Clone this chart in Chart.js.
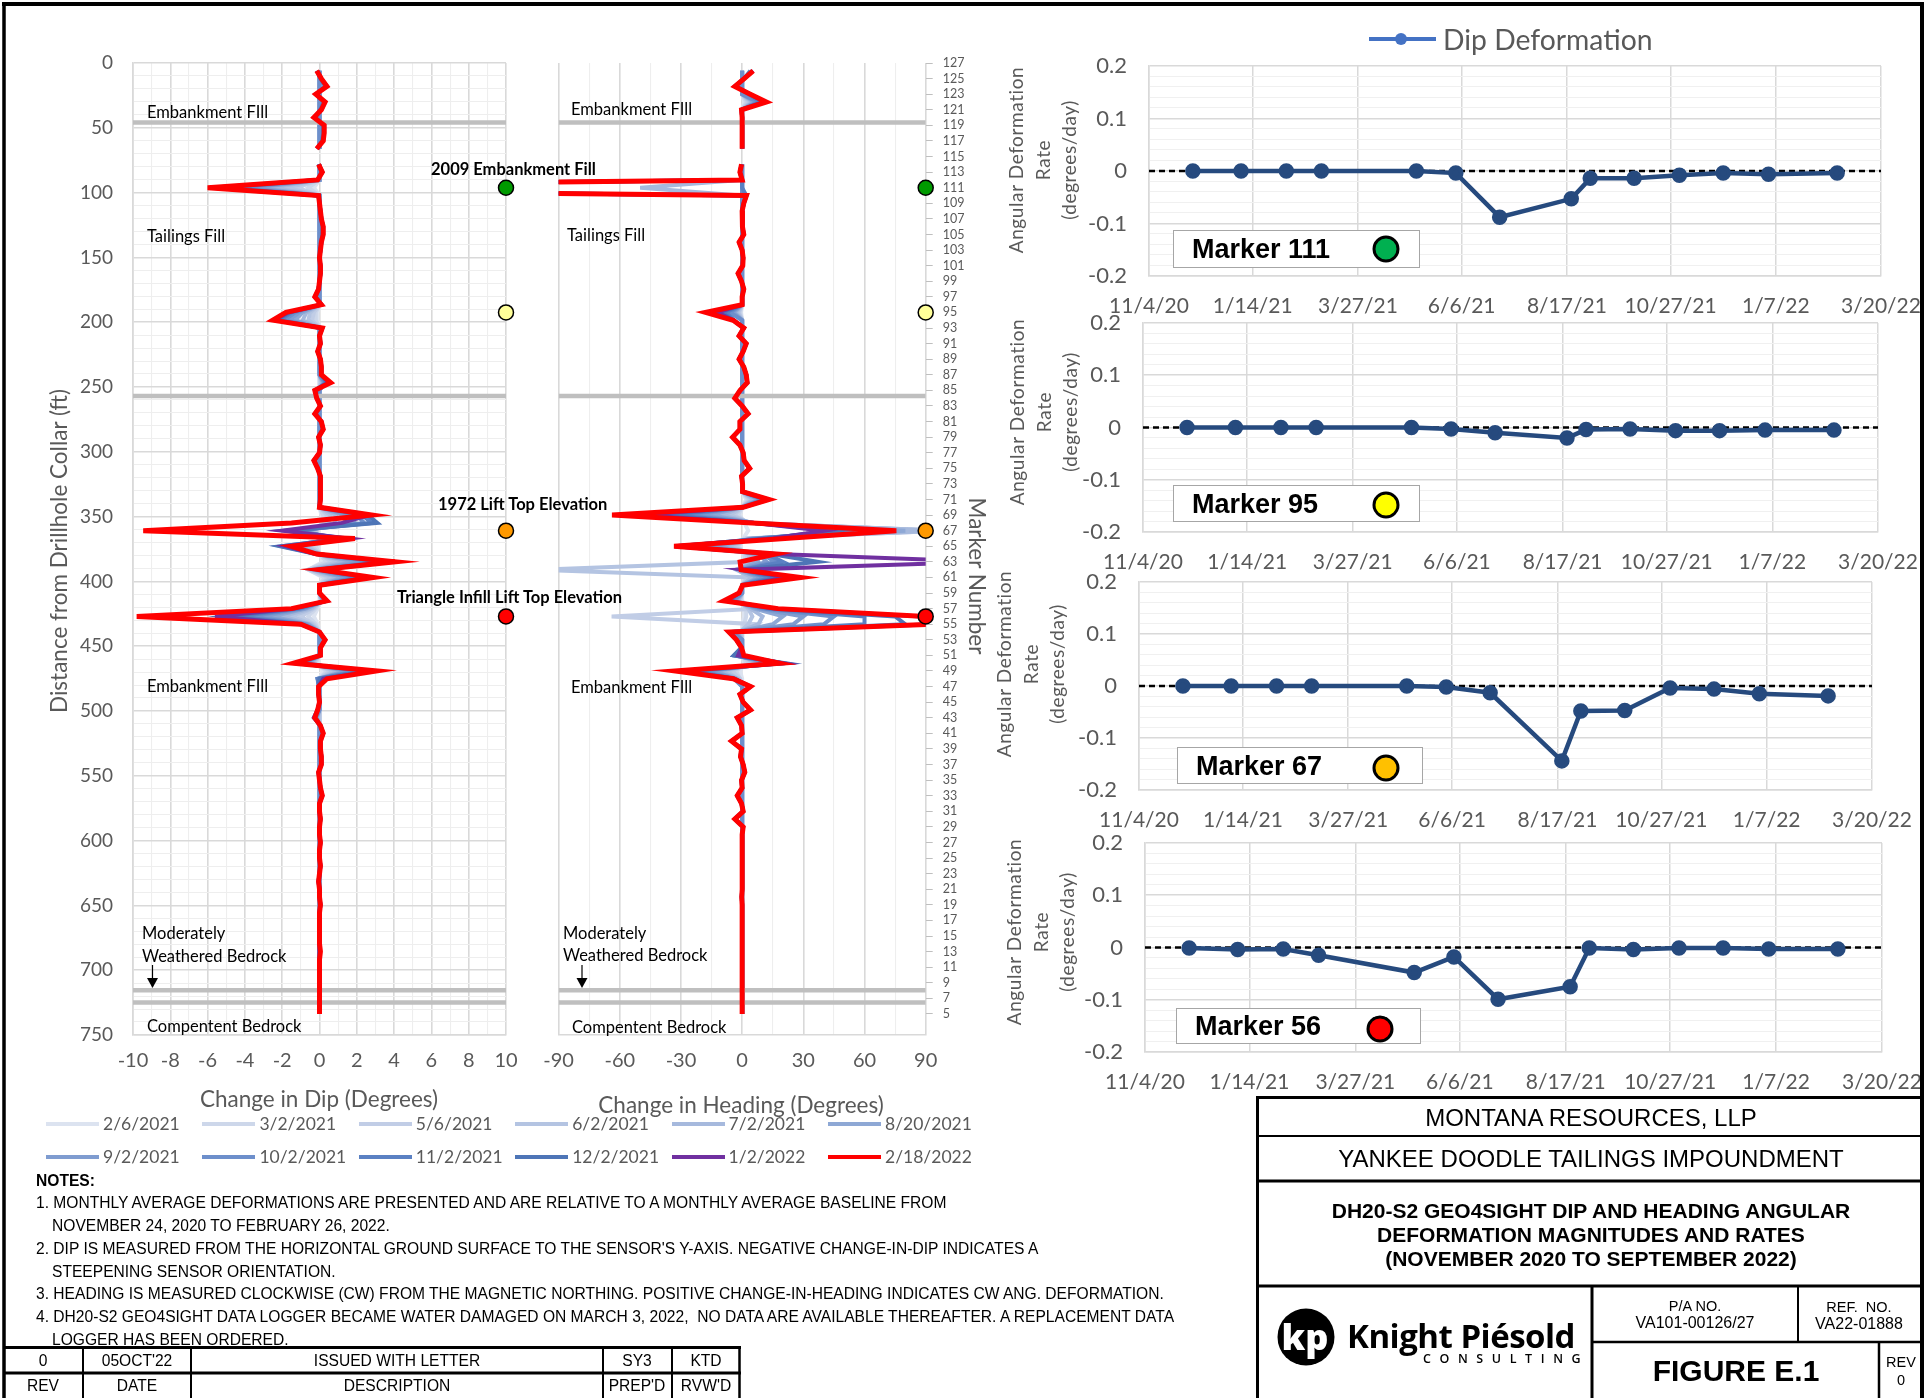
<!DOCTYPE html>
<html>
<head>
<meta charset="utf-8">
<title>DH20-S2 GEO4SIGHT Dip and Heading</title>
<script src="https://cdn.jsdelivr.net/npm/chart.js@4.4.1/dist/chart.umd.min.js"></script>
<style>
  html, body { margin: 0; padding: 0; background: #fff; }
  #page { position: relative; width: 1925px; height: 1398px; overflow: hidden; background: #fff; font-family: Lato, sans-serif; }
  #page canvas { position: absolute; }
  #lines { position: absolute; left: 0; top: 0; }
  .t { position: absolute; white-space: nowrap; line-height: 1; }
  .lc { transform: translateY(-50%); }
  .cc { transform: translate(-50%, -50%); }
  .ann { font-size: 16.5px; color: #000; }
  .annb { font-size: 16.5px; color: #000; font-weight: 700; }
  .axt { font-size: 22.5px; color: #595959; }
  .rt { font-size: 19px; color: #595959; letter-spacing: 0.6px; transform: translate(-50%, -50%) rotate(-90deg); }
  .note { font-family: 'Liberation Sans', Arial, sans-serif; font-size: 15.6px; color: #000; }
  .arial { font-family: 'Liberation Sans', Arial, sans-serif; color: #000; }
  .mbox { position: absolute; background: #fff; border: 1.5px solid #A6A6A6; box-sizing: border-box; }
  .mbox span { position: absolute; top: 50%; transform: translateY(-50%); font-family: 'Liberation Sans', Arial, sans-serif; font-weight: 700; font-size: 27px; color: #000; white-space: nowrap; }
  .mdot { position: absolute; width: 27px; height: 27px; border-radius: 50%; border: 3px solid #000; box-sizing: border-box; transform: translate(-50%, -50%); }
  .lg { position: absolute; height: 4px; width: 53px; }
  .lgt { position: absolute; font-size: 17.5px; color: #595959; transform: translateY(-50%); white-space: nowrap; line-height: 1; }
</style>
</head>
<body>
<div id="page">
  <canvas id="dipChart" width="540" height="1090" style="left:0;top:30px"></canvas>
  <canvas id="headingChart" width="460" height="1090" style="left:520px;top:30px"></canvas>
  <canvas id="rate111" width="945" height="292" style="left:1000px;top:26px"></canvas>
  <canvas id="rate95" width="945" height="291" style="left:1000px;top:283px"></canvas>
  <canvas id="rate67" width="945" height="290" style="left:1000px;top:542px"></canvas>
  <canvas id="rate56" width="945" height="291" style="left:1000px;top:803px"></canvas>

  <svg id="lines" width="1925" height="1398">
    <g stroke="#000" fill="none">
      <line x1="2" y1="4" x2="1924" y2="4" stroke-width="4"/>
      <line x1="4" y1="2" x2="4" y2="1398" stroke-width="3.5"/>
      <line x1="1922" y1="2" x2="1922" y2="1398" stroke-width="4"/>
      <line x1="1256" y1="1097.5" x2="1924" y2="1097.5" stroke-width="3"/>
      <line x1="1257.5" y1="1096" x2="1257.5" y2="1398" stroke-width="3"/>
      <line x1="1257" y1="1136" x2="1922" y2="1136" stroke-width="2"/>
      <line x1="1257" y1="1181" x2="1922" y2="1181" stroke-width="3"/>
      <line x1="1257" y1="1286" x2="1922" y2="1286" stroke-width="3"/>
      <line x1="1592" y1="1286" x2="1592" y2="1398" stroke-width="3"/>
      <line x1="1798" y1="1286" x2="1798" y2="1342" stroke-width="2"/>
      <line x1="1592" y1="1342" x2="1922" y2="1342" stroke-width="2.5"/>
      <line x1="1879" y1="1342" x2="1879" y2="1398" stroke-width="2.5"/>
      <line x1="3" y1="1347.5" x2="741" y2="1347.5" stroke-width="3"/>
      <line x1="3" y1="1373" x2="741" y2="1373" stroke-width="3"/>
      <line x1="83" y1="1347" x2="83" y2="1398" stroke-width="2"/>
      <line x1="191" y1="1347" x2="191" y2="1398" stroke-width="2"/>
      <line x1="603" y1="1347" x2="603" y2="1398" stroke-width="2"/>
      <line x1="672" y1="1347" x2="672" y2="1398" stroke-width="2"/>
      <line x1="739.5" y1="1347" x2="739.5" y2="1398" stroke-width="2.5"/>
      <line x1="152.5" y1="965" x2="152.5" y2="980" stroke-width="1.2"/>
      <line x1="582" y1="965" x2="582" y2="980" stroke-width="1.2"/>
    </g>
    <polygon points="147,978 158,978 152.5,988" fill="#000"/>
    <polygon points="576.5,978 587.5,978 582,988" fill="#000"/>
    <circle cx="1306" cy="1337" r="28.5" fill="#000"/>
    <text x="1305" y="1350" text-anchor="middle" font-family="Open Sans, sans-serif" font-weight="800" font-size="36" fill="#fff">kp</text>
  </svg>

  <!-- profile annotations -->
  <div class="t lc ann" style="left:147px;top:112px">Embankment FIll</div>
  <div class="t lc ann" style="left:147px;top:236px">Tailings Fill</div>
  <div class="t lc ann" style="left:147px;top:686px">Embankment FIll</div>
  <div class="t lc ann" style="left:142px;top:933px">Moderately</div>
  <div class="t lc ann" style="left:142px;top:956px">Weathered Bedrock</div>
  <div class="t lc ann" style="left:147px;top:1026px">Compentent Bedrock</div>
  <div class="t lc ann" style="left:571px;top:109px">Embankment FIll</div>
  <div class="t lc ann" style="left:567px;top:235px">Tailings Fill</div>
  <div class="t lc ann" style="left:571px;top:687px">Embankment FIll</div>
  <div class="t lc ann" style="left:563px;top:933px">Moderately</div>
  <div class="t lc ann" style="left:563px;top:955px">Weathered Bedrock</div>
  <div class="t lc ann" style="left:572px;top:1027px">Compentent Bedrock</div>
  <div class="t lc annb" style="left:431px;top:169px">2009 Embankment Fill</div>
  <div class="t lc annb" style="left:438px;top:504px">1972 Lift Top Elevation</div>
  <div class="t lc annb" style="left:397px;top:597px">Triangle Infill Lift Top Elevation</div>

  <div class="t axt" style="left:59px;top:551px;transform:translate(-50%,-50%) rotate(-90deg)">Distance from Drillhole Collar (ft)</div>
  <div class="t axt cc" style="left:319px;top:1099px">Change in Dip (Degrees)</div>
  <div class="t axt cc" style="left:741px;top:1105px">Change in Heading (Degrees)</div>
  <div class="t axt" style="left:977px;top:576px;transform:translate(-50%,-50%) rotate(90deg)">Marker Number</div>

  <!-- rate chart titles -->
  <div id="rateTitles"></div>

  <!-- rate legend -->
  <div style="position:absolute;left:1369px;top:37px;width:67px;height:4px;background:#4472C4"></div>
  <div style="position:absolute;left:1395px;top:33px;width:12px;height:12px;border-radius:50%;background:#4472C4"></div>
  <div class="t lc" style="left:1443px;top:39px;font-size:28.3px;color:#595959">Dip Deformation</div>

  <div id="seriesLegend"></div>

  <!-- notes -->
  <div class="t lc note" style="left:36px;top:1181px;font-weight:700">NOTES:</div>
  <div class="t lc note" style="left:36px;top:1203px">1. MONTHLY AVERAGE DEFORMATIONS ARE PRESENTED AND ARE RELATIVE TO A MONTHLY AVERAGE BASELINE FROM</div>
  <div class="t lc note" style="left:52px;top:1226px">NOVEMBER 24, 2020 TO FEBRUARY 26, 2022.</div>
  <div class="t lc note" style="left:36px;top:1249px">2. DIP IS MEASURED FROM THE HORIZONTAL GROUND SURFACE TO THE SENSOR'S Y-AXIS. NEGATIVE CHANGE-IN-DIP INDICATES A</div>
  <div class="t lc note" style="left:52px;top:1272px">STEEPENING SENSOR ORIENTATION.</div>
  <div class="t lc note" style="left:36px;top:1294px">3. HEADING IS MEASURED CLOCKWISE (CW) FROM THE MAGNETIC NORTHING. POSITIVE CHANGE-IN-HEADING INDICATES CW ANG. DEFORMATION.</div>
  <div class="t lc note" style="left:36px;top:1317px">4. DH20-S2 GEO4SIGHT DATA LOGGER BECAME WATER DAMAGED ON MARCH 3, 2022,&nbsp; NO DATA ARE AVAILABLE THEREAFTER. A REPLACEMENT DATA</div>
  <div class="t lc note" style="left:52px;top:1340px">LOGGER HAS BEEN ORDERED.</div>

  <!-- revision table -->
  <div class="t cc note" style="left:43px;top:1361px">0</div>
  <div class="t cc note" style="left:137px;top:1361px">05OCT'22</div>
  <div class="t cc note" style="left:397px;top:1361px">ISSUED WITH LETTER</div>
  <div class="t cc note" style="left:637px;top:1361px">SY3</div>
  <div class="t cc note" style="left:706px;top:1361px">KTD</div>
  <div class="t cc note" style="left:43px;top:1386px">REV</div>
  <div class="t cc note" style="left:137px;top:1386px">DATE</div>
  <div class="t cc note" style="left:397px;top:1386px">DESCRIPTION</div>
  <div class="t cc note" style="left:637px;top:1386px">PREP'D</div>
  <div class="t cc note" style="left:706px;top:1386px">RVW'D</div>

  <!-- title block -->
  <div class="t cc arial" style="left:1591px;top:1118px;font-size:24px">MONTANA RESOURCES, LLP</div>
  <div class="t cc arial" style="left:1591px;top:1159px;font-size:24px">YANKEE DOODLE TAILINGS IMPOUNDMENT</div>
  <div class="t cc arial" style="left:1591px;top:1210px;font-size:21px;font-weight:700">DH20-S2 GEO4SIGHT DIP AND HEADING ANGULAR</div>
  <div class="t cc arial" style="left:1591px;top:1234px;font-size:21px;font-weight:700">DEFORMATION MAGNITUDES AND RATES</div>
  <div class="t cc arial" style="left:1591px;top:1258px;font-size:21px;font-weight:700">(NOVEMBER 2020 TO SEPTEMBER 2022)</div>
  <div class="t cc arial" style="left:1695px;top:1306px;font-size:14.5px">P/A NO.</div>
  <div class="t cc arial" style="left:1695px;top:1323px;font-size:16px">VA101-00126/27</div>
  <div class="t cc arial" style="left:1859px;top:1307px;font-size:14.5px">REF.&nbsp; NO.</div>
  <div class="t cc arial" style="left:1859px;top:1324px;font-size:16px">VA22-01888</div>
  <div class="t cc arial" style="left:1736px;top:1371px;font-size:30px;font-weight:700">FIGURE E.1</div>
  <div class="t cc arial" style="left:1901px;top:1362px;font-size:14.5px">REV</div>
  <div class="t cc arial" style="left:1901px;top:1380px;font-size:14.5px">0</div>
  <div class="t lc" style="left:1347px;top:1335px;font-family:'Open Sans',sans-serif;font-weight:700;font-size:33px;color:#000;letter-spacing:-0.5px">Knight Piésold</div>
  <div class="t lc" style="left:1423px;top:1359px;font-family:'Open Sans',sans-serif;font-weight:600;font-size:12.5px;color:#000;letter-spacing:8.6px">CONSULTING</div>
</div>

<script>
// marker numbers from the top of the hole to the bottom
const markerNumbers = [
  126, 125, 124, 123, 122, 121, 120, 119, 118, 117,
  116, 115, 114, 113, 112, 111, 110, 109, 108, 107,
  106, 105, 104, 103, 102, 101, 100, 99, 98, 97,
  96, 95, 94, 93, 92, 91, 90, 89, 88, 87,
  86, 85, 84, 83, 82, 81, 80, 79, 78, 77,
  76, 75, 74, 73, 72, 71, 70, 69, 68, 67,
  66, 65, 64, 63, 62, 61, 60, 59, 58, 57,
  56, 55, 54, 53, 52, 51, 50, 49, 48, 47,
  46, 45, 44, 43, 42, 41, 40, 39, 38, 37,
  36, 35, 34, 33, 32, 31, 30, 29, 28, 27,
  26, 25, 24, 23, 22, 21, 20, 19, 18, 17,
  16, 15, 14, 13, 12, 11, 10, 9, 8, 7,
  6, 5
];

const markerTickLabels = [127, 125, 123, 121, 119, 117, 115, 113, 111, 109, 107, 105, 103, 101, 99, 97, 95, 93, 91, 89,
  87, 85, 83, 81, 79, 77, 75, 73, 71, 69, 67, 65, 63, 61, 59, 57, 55, 53, 51, 49, 47, 45, 43, 41, 39, 37, 35, 33, 31, 29,
  27, 25, 23, 21, 19, 17, 15, 13, 11, 9, 7, 5];

const surveyDates = ['2/6/2021', '3/2/2021', '5/6/2021', '6/2/2021', '7/2/2021', '8/20/2021',
  '9/2/2021', '10/2/2021', '11/2/2021', '12/2/2021', '1/2/2022', '2/18/2022'];
const seriesColors = ['#DCE3F0', '#CDD7EA', '#C1CDE6', '#B4C4E2', '#A6B9DD', '#8EA8D5',
  '#7F9CD0', '#6D8FCB', '#5B81C3', '#4E75B7', '#7030A0', '#FF0000'];

const highlightMarkers = [111, 95, 67, 56];
const highlightColors = ['#009A00', '#FFFF99', '#FF9900', '#FF0000'];
const boxColors = ['#00B050', '#FFFF00', '#FFC000', '#FF0000'];
const boundaryDepths = [46, 257, 715.5, 725];

// change in dip (degrees), one value per marker
const dip20210206 = [
  0, 0, 0, 0, 0, 0, 0, 0, 0, 0,
  0, null, 0, 0, 0, -0.3, 0, 0, 0, 0,
  0, 0, 0, 0, 0, 0, 0, 0, 0, 0,
  0, -0.1, -0.1, 0, 0, 0, 0, 0, 0, 0,
  0, 0, 0, 0, 0, 0, 0, 0, 0, 0,
  0, 0, 0, 0, 0, 0, 0, 0.1, 0.1, -0.1,
  0.05, -0.1, 0, 0.2, -0.6, 0.2, 0, 0, 0, -0.1,
  -0.3, -0.1, 0, 0, 0, 0, -0.1, 0.2, 0, 0,
  0, 0, 0, 0, 0, 0, 0, 0, 0, 0,
  0, 0, 0, 0, 0, 0, 0, 0, 0, 0,
  0, 0, 0, 0, 0, 0, 0, 0, 0, 0,
  0, 0, 0, 0, 0, 0, 0, 0, 0, 0,
  0, 0
];
const dip20210302 = [
  0, 0, 0, 0, 0, 0, 0, 0, 0, 0,
  0, null, 0, 0, 0, -0.6, 0, 0, 0, 0,
  0, 0, 0, 0, 0, 0, 0, 0, 0, 0,
  0, -0.2, -0.2, 0, 0, 0, 0, 0, 0, 0,
  0, 0, 0, 0, 0, 0, 0, 0, 0, 0,
  0, 0, 0, 0, 0, 0, 0, 0.2, 0.2, -0.2,
  0.1, -0.2, 0, 0.4, -0.6, 0.3, 0, 0, 0.05, -0.2,
  -0.6, -0.2, 0, 0, 0, 0, -0.2, 0.4, 0, 0,
  0, 0, 0, 0, 0, 0, 0, 0, 0, 0,
  0, 0, 0, 0, 0, 0, 0, 0, 0, 0,
  0, 0, 0, 0, 0, 0, 0, 0, 0, 0,
  0, 0, 0, 0, 0, 0, 0, 0, 0, 0,
  0, 0
];
const dip20210506 = [
  0, 0, 0, 0, 0, 0, 0, 0, 0, 0,
  0, null, 0, 0, 0, -1.2, 0, 0, 0, 0,
  0, 0, 0, 0, 0, 0, 0, 0, 0, 0,
  0, -0.3, -0.4, 0, 0, 0, 0, 0, 0, 0,
  0.05, 0, 0, 0, 0, 0, 0, 0, 0, 0,
  0, 0, 0, 0, 0, 0, 0, 0.4, 0.3, -0.3,
  0.2, -0.4, 0, 0.7, -0.5, 0.5, 0, 0, 0.1, -0.3,
  -1.0, -0.3, 0, 0, 0, 0, -0.3, 0.6, 0, 0,
  0, 0, 0, 0, 0, 0, 0, 0, 0, 0,
  0, 0, 0, 0, 0, 0, 0, 0, 0, 0,
  0, 0, 0, 0, 0, 0, 0, 0, 0, 0,
  0, 0, 0, 0, 0, 0, 0, 0, 0, 0,
  0, 0
];
const dip20210602 = [
  0, 0, 0, 0, 0, 0, 0, 0, 0, 0,
  0, null, 0, 0, 0, -1.8, 0, 0, 0, 0,
  0, 0, 0, 0, 0, 0, 0, 0, 0, 0,
  0, -0.5, -0.6, 0, 0, 0, 0, 0, 0, 0,
  0.1, 0, 0, 0, 0, 0, 0, 0, 0, 0,
  0, 0, 0, 0, 0, 0, 0, 0.6, 0.5, -0.5,
  0.3, -0.6, 0, 1.0, -0.5, 0.7, 0, 0, 0.1, -0.4,
  -1.5, -0.4, 0, 0, 0, 0, -0.4, 0.8, 0, 0,
  0, 0, 0, 0, 0, 0, 0, 0, 0, 0,
  0, 0, 0, 0, 0, 0, 0, 0, 0, 0,
  0, 0, 0, 0, 0, 0, 0, 0, 0, 0,
  0, 0, 0, 0, 0, 0, 0, 0, 0, 0,
  0, 0
];
const dip20210702 = [
  0, 0, 0, 0, 0, 0, 0, 0, 0, 0,
  0, null, 0, 0, 0, -2.6, 0, 0, 0, 0,
  0, 0, 0, 0, 0, 0, 0, 0, 0, 0,
  0, -0.7, -0.9, 0, 0, 0, 0, 0, 0, 0,
  0.15, 0, 0, 0, 0, 0, 0, 0, 0, 0,
  0, 0, 0, 0, 0, 0, 0, 0.9, 0.8, -0.7,
  0.4, -0.8, 0, 1.4, -0.4, 1.0, 0, 0, 0.15, -0.5,
  -2.0, -0.5, 0, 0, 0, 0, -0.5, 1.1, 0, 0,
  0, 0, 0, -0.1, 0, 0, 0, 0, 0, 0,
  0, 0, 0, 0, 0, 0, 0, 0, 0, 0,
  0, 0, 0, 0, 0, 0, 0, 0, 0, 0,
  0, 0, 0, 0, 0, 0, 0, 0, 0, 0,
  0, 0
];
const dip20210820 = [
  0, 0, 0, 0, 0, 0, 0, 0, 0, 0,
  0, null, 0, 0, 0, -3.4, 0, 0, 0, 0,
  0, 0, 0, 0, 0, 0, 0, 0, 0, 0,
  0, -0.9, -1.3, 0, 0, 0, 0, 0, 0, 0,
  0.2, 0, 0, 0, 0, 0, 0, 0, 0, 0,
  0, 0, 0, 0, 0, 0, 0, 1.3, 1.4, -0.9,
  0.6, -1.1, -0.1, 1.9, -0.3, 1.3, 0, 0, 0.2, -0.7,
  -2.6, -0.6, 0, 0, 0, 0, -0.6, 1.4, 0, 0,
  0, 0, 0, -0.15, 0, 0, 0, 0, 0, 0,
  0, 0, 0, 0, 0, 0, 0, 0, 0, 0,
  0, 0, 0, 0, 0, 0, 0, 0, 0, 0,
  0, 0, 0, 0, 0, 0, 0, 0, 0, 0,
  0, 0
];
const dip20210902 = [
  0, 0, 0, 0, 0, 0, 0, 0, 0, 0,
  0, null, 0, 0, 0, -3.9, 0, 0, 0, 0,
  0, 0, 0, 0, 0, 0, 0, 0, 0, 0,
  0, -1.1, -1.6, 0, 0, 0, 0, 0, 0, 0,
  0.25, 0, 0, 0, 0, 0, 0, 0, 0, 0,
  0, 0, 0, 0, 0, 0, 0, 1.6, 1.9, -1.1,
  0.8, -1.4, -0.1, 2.4, -0.2, 1.6, 0, 0, 0.25, -0.8,
  -3.2, -0.7, 0, 0, 0, 0, -0.8, 1.7, -0.1, 0,
  0, 0, 0, -0.2, 0, 0, 0, 0, 0, 0,
  0, 0, 0, 0, 0, 0, 0, 0, 0, 0,
  0, 0, 0, 0, 0, 0, 0, 0, 0, 0,
  0, 0, 0, 0, 0, 0, 0, 0, 0, 0,
  0, 0
];
const dip20211002 = [
  0, 0, 0, 0, 0, 0, 0, 0, 0, 0,
  0, null, 0, 0, 0, -4.5, 0, 0, 0, 0,
  0, 0, 0, 0, 0, 0, 0, 0, 0, 0,
  0, -1.3, -1.9, 0, 0, 0, 0, 0, 0, 0,
  0.3, 0, 0, 0, 0, 0, 0, 0, 0, 0,
  0, 0, 0, 0, 0, 0, 0, 2.0, 2.4, -1.3,
  1.0, -1.7, -0.1, 2.9, -0.1, 1.9, 0, 0, 0.3, -1.0,
  -3.8, -0.8, 0, 0, 0, 0, -0.9, 2.0, -0.1, 0,
  0, 0, 0, -0.2, 0, 0, 0, 0, 0, 0,
  0, 0, 0, 0, 0, 0, 0, 0, 0, 0,
  0, 0, 0, 0, 0, 0, 0, 0, 0, 0,
  0, 0, 0, 0, 0, 0, 0, 0, 0, 0,
  0, 0
];
const dip20211102 = [
  -0.1, 0.05, 0.3, -0.15, 0.2, 0.05, -0.2, 0.2, 0.2, 0.15,
  -0.1, null, -0.05, 0.1, -0.1, -5.0, -0.05, 0, 0.05, 0.1,
  0.15, 0.15, 0.1, 0.05, 0, 0.05, 0.05, 0, -0.05, -0.2,
  0.1, -1.5, -2.1, 0.1, 0, 0.05, -0.1, 0.05, 0.1, 0.1,
  0.35, -0.2, -0.1, 0.05, -0.2, 0.1, 0.15, -0.05, 0.05, 0,
  -0.25, -0.1, 0.05, 0.05, 0.05, 0.05, 0, 2.3, 2.8, -1.5,
  1.2, -2.0, -0.1, 3.3, 0, 2.2, 0, 0, 0.35, -1.1,
  -4.4, -0.9, 0, 0.25, 0.05, 0.05, -1.0, 2.3, -0.1, -0.05,
  -0.05, 0, -0.1, -0.25, 0.05, 0.15, 0.05, 0.05, 0.1, 0.1,
  -0.05, 0, 0.05, 0.1, 0, 0, 0.05, 0, 0, 0.05,
  0, 0, 0.05, 0, -0.05, 0, 0, 0.05, 0, 0,
  0, 0, 0, 0, 0, 0, 0, 0, 0, 0,
  0, 0
];
const dip20211202 = [
  -0.1, 0.05, 0.35, -0.15, 0.25, 0.05, -0.25, 0.2, 0.2, 0.15,
  -0.1, null, -0.05, 0.15, -0.1, -5.4, -0.05, 0, 0.05, 0.1,
  0.2, 0.15, 0.1, 0.05, 0, 0.05, 0.05, 0, -0.05, -0.2,
  0.1, -1.6, -2.3, 0.15, 0, 0.05, -0.1, 0.05, 0.1, 0.1,
  0.4, -0.2, -0.15, 0.05, -0.2, 0.1, 0.2, -0.05, 0.05, 0,
  -0.3, -0.1, 0.05, 0.05, 0.05, 0.05, 0, 2.6, 3.1, -1.8,
  1.4, -2.1, -0.2, 3.6, 0, 2.5, 0, 0, 0.4, -1.3,
  -5.0, -1.0, 0, 0.3, 0.05, 0.05, -1.2, 2.6, 0, -0.05,
  -0.05, 0, -0.1, -0.3, 0.05, 0.2, 0.05, 0.05, 0.1, 0.1,
  -0.05, 0, 0.05, 0.15, 0, 0, 0.05, 0, 0, 0.05,
  0, 0, 0.05, 0, -0.05, 0, 0, 0.05, 0, 0,
  0, 0, 0, 0, 0, 0, 0, 0, 0, 0,
  0, 0
];
const dip20220102 = [
  -0.15, 0.1, 0.4, -0.2, 0.3, 0.1, -0.3, 0.25, 0.25, 0.2,
  -0.15, null, -0.05, 0.15, -0.1, -5.8, -0.05, 0, 0.05, 0.1,
  0.2, 0.2, 0.1, 0.05, 0, 0.05, 0.05, 0, -0.05, -0.25,
  0.1, -1.7, -2.4, 0.15, 0, 0.05, -0.1, 0.05, 0.1, 0.1,
  0.5, -0.25, -0.15, 0.05, -0.25, 0.1, 0.2, -0.05, 0.05, 0,
  -0.3, -0.1, 0.05, 0.05, 0.05, 0.05, 0, 2.7, 1.2, -2.0,
  1.6, -1.8, -0.2, 3.9, 0, 2.7, 0, 0, 0.4, -1.4,
  -5.6, -1.0, 0, 0.3, 0.05, 0.05, -1.3, 2.9, 0.2, -0.05,
  -0.05, 0, -0.1, -0.3, 0.05, 0.2, 0.05, 0.05, 0.1, 0.1,
  -0.05, 0, 0.05, 0.15, 0, 0, 0.05, 0, 0, 0.05,
  0, 0, 0.05, 0, -0.05, 0, 0, 0.05, 0, 0,
  0, 0, 0, 0, 0, 0, 0, 0, 0, 0,
  0, 0
];
const dip20220218 = [
  -0.15, 0.1, 0.4, -0.2, 0.3, 0.1, -0.3, 0.25, 0.25, 0.2,
  -0.15, null, -0.05, 0.15, -0.1, -6.0, -0.05, 0, 0.05, 0.1,
  0.2, 0.2, 0.1, 0.05, 0, 0.05, 0.05, 0, -0.05, -0.25,
  0.1, -1.8, -2.5, 0.15, 0, 0.05, -0.1, 0.05, 0.1, 0.1,
  0.6, -0.25, -0.15, 0.05, -0.25, 0.1, 0.2, -0.05, 0.05, 0,
  -0.3, -0.1, 0.05, 0.05, 0.05, 0.05, 0, 2.8, -1.5, -9.45,
  1.9, -1.5, -0.15, 4.05, 0, 2.9, 0, 0, 0.4, -1.5,
  -9.8, -1.0, 0, 0.3, 0.05, 0.05, -1.4, 3.07, 0.4, -0.05,
  -0.05, 0, -0.1, -0.25, 0.05, 0.2, 0.05, 0.05, 0.1, 0.1,
  -0.05, 0, 0.05, 0.15, 0, 0, 0.05, 0, 0, 0.05,
  0, 0, 0.05, 0, -0.05, 0, 0, 0.05, 0, 0,
  0, 0, 0, 0.05, 0, 0, 0, 0, 0, 0,
  0, 0
];

// change in heading (degrees), one value per marker
const hdg20210206 = [
  0, 0, 0, 0, 1, 0, 0, 0, 0, 0,
  0, null, 0, 0, 0, 0, 0, 0, 0, 0,
  0, 0, 0, 0, 0, 0, 0, 0, 0, 0,
  0, -0.5, 0, 0, 0, 0, 0, 0, 0, 0,
  0, 0, 0, 0, 0, 0, 0, 0, 0, 0,
  0, 0, 0, 0, 0, 2, 0, -1, 1, 3,
  0.5, -1, 0.5, 1, 0, 1, 0, 0, 0, 1,
  1, 0, 0, 0, 0, 0, 1, -1, 0, 0,
  0, 0, 0, 0, 0, 0, 0, 0, 0, 0,
  0, 0, 0, 0, 0, 0, 0, 0, 0, 0,
  0, 0, 0, 0, 0, 0, 0, 0, 0, 0,
  0, 0, 0, 0, 0, 0, 0, 0, 0, 0,
  0, 0
];
const hdg20210302 = [
  0, 0, 0, 0, 2, 0, 0, 0, 0, 0,
  0, null, 0, 0, 0, 0, 0, 0, 0, 0,
  0, 0, 0, 0, 0, 0, 0, 0, 0, 0,
  0, -1, 0, 0, 0, 0, 0, 0, 0, 0,
  0, 0, 0, 0, 0, 0, 0, 0, 0, 0,
  0, 0, 0, 0, 0, 3, 0, -2, 2, 95,
  1, -2, 1, 2, -1, 2, 0, 0, -1, 2,
  2, 1, 0, 0, 0, 0, 2, -3, -1, 0,
  0, 0, 0, 0, 0, 0, 0, 0, 0, 0,
  0, 0, 0, 0, 0, 0, 0, 0, 0, 0,
  0, 0, 0, 0, 0, 0, 0, 0, 0, 0,
  0, 0, 0, 0, 0, 0, 0, 0, 0, 0,
  0, 0
];
const hdg20210506 = [
  0, 0, 0, 0, 3, 0, 0, 0, 0, 0,
  0, null, 0, 0, 0, 0, 0, 0, 0, 0,
  0, 0, 0, 0, 0, 0, 0, 0, 0, 0,
  0, -1.5, 0, 0, 0, 0, 0, 0, 0, 0,
  0, 0, 0, 0, 0, 0, 0, 0, 0, 0,
  0, 0, 0, 0, 0, 4, 0, -4, 3, 100,
  2, -3, 2, 3, -2, 3, 0, 0, -1, 7,
  -64, 7, 0, 0, 0, 0, 4, -5, -1, 0,
  0, 0, 0, 0, 0, 0, 0, 0, 0, 0,
  0, 0, 0, 0, 0, 0, 0, 0, 0, 0,
  0, 0, 0, 0, 0, 0, 0, 0, 0, 0,
  0, 0, 0, 0, 0, 0, 0, 0, 0, 0,
  0, 0
];
const hdg20210602 = [
  0, 0, 0, 0, 4, 0, 0, 0, 0, 0,
  0, null, 0, 0, 0, 0, 0, 0, 0, 0,
  0, 0, 0, 0, 0, 0, 0, 0, 0, 0,
  0, -2, 0, 0, 0, 0, 0, 0, 0, 0,
  0, 0, 0, 0, 0, 0, 0, 0, 0, 0,
  0, 0, 0, 0, 0, 5, 0, -6, 4, 100,
  3, -5, 3, 4, -100, 5, 0, 0, -2, 3,
  5, 3, -1, 0, 0, 0, 6, -8, -2, 0,
  0, 0, 0, 0, 0, 0, 0, 0, 0, 0,
  0, 0, 0, 0, 0, 0, 0, 0, 0, 0,
  0, 0, 0, 0, 0, 0, 0, 0, 0, 0,
  0, 0, 0, 0, 0, 0, 0, 0, 0, 0,
  0, 0
];
const hdg20210702 = [
  0, 0, 0, 0, 5, 0, 0, 0, 0, 0,
  0, null, 0, 0, 0, -50, 0, 0, 0, 0,
  0, 0, 0, 0, 0, 0, 0, 0, 0, 0,
  0, -3, 0, 0, 0, 0, 0, 0, 0, 0,
  0, 0, 0, 0, 0, 0, 0, 0, 0, 0,
  0, 0, 0, 0, 0, 6, 0, -10, 5, 95,
  4, -8, 4, 6, -3, 5, 0, 0, -2, 4,
  10, 8, -2, 0, 0, -1, 8, -11, -2, 0,
  0, 0, 0, 0, 0, 0, 0, 0, 0, 0,
  0, 0, 0, 0, 0, 0, 0, 0, 0, 0,
  0, 0, 0, 0, 0, 0, 0, 0, 0, 0,
  0, 0, 0, 0, 0, 0, 0, 0, 0, 0,
  0, 0
];
const hdg20210820 = [
  0, 0, 0, 0, 6, 0, 0, 0, 0, 0,
  0, null, 0, 0, 0, 0, 0, 0, 0, 0,
  0, 0, 0, 0, 0, 0, 0, 0, 0, 0,
  0, -4, 0, 0, 0, 0, 0, 0, 0, 0,
  0, 0, 0, 0, 0, 0, 0, 0, 0, 0,
  0, 0, 0, 0, 0, 8, 0, -16, 6, 80,
  5, -12, 6, 8, -2, 8, 0, 0, -3, 6,
  20, 15, -3, 0, 0, -2, 11, -14, -3, 0,
  0, 0, 0, 0, 0, 0, 0, 0, 0, 0,
  0, 0, 0, 0, 0, 0, 0, 0, 0, 0,
  0, 0, 0, 0, 0, 0, 0, 0, 0, 0,
  0, 0, 0, 0, 0, 0, 0, 0, 0, 0,
  0, 0
];
const hdg20210902 = [
  0, 0, 0, 0, 7, 0, 0, 0, 0, 0,
  0, null, 0, 0, 0, 0, 0, 0, 0, 0,
  0, 0, 0, 0, 0, 0, 0, 0, 0, 0,
  0, -5, 0, 0, 0, 0, 0, 0, 0, 0,
  0, 0, 0, 0, 0, 0, 0, 0, 0, 0,
  0, 0, 0, 0, 0, 9, 0, -22, 6, 60,
  6, -16, 8, 12, -1, 10, 0, 0, -4, 8,
  30, 25, -4, 0, 0, -3, 14, -17, -3, 0,
  0, 0, 0, 0, 0, 0, 0, 0, 0, 0,
  0, 0, 0, 0, 0, 0, 0, 0, 0, 0,
  0, 0, 0, 0, 0, 0, 0, 0, 0, 0,
  0, 0, 0, 0, 0, 0, 0, 0, 0, 0,
  0, 0
];
const hdg20211002 = [
  0, 0, 0, 0, 8, 0, 0, 0, 0, 0,
  0, null, 0, 0, 0, 0, 0, 0, 0, 0,
  0, 0, 0, 0, 0, 0, 0, 0, 0, 0,
  0, -6, 0, 0, 0, 0, 0, 0, 0, 0,
  0, 0, 0, 0, 0, 0, 0, 0, 0, 0,
  0, 0, 0, 0, 0, 10, 0, -28, 6, 55,
  8, -22, 10, 16, 0, 12, 0, 0, -5, 10,
  45, 40, -5, 0, 0, -4, 17, -20, -4, 0,
  0, 0, 0, 0, 0, 0, 0, 0, 0, 0,
  0, 0, 0, 0, 0, 0, 0, 0, 0, 0,
  0, 0, 0, 0, 0, 0, 0, 0, 0, 0,
  0, 0, 0, 0, 0, 0, 0, 0, 0, 0,
  0, 0
];
const hdg20211102 = [
  4, 1, -3, 3, 9, -0.3, 0, 0, 0, 0,
  0, null, -0.3, -1, 0, 0, 2, 0.8, 0, 0.3,
  0, 0.8, -1.5, 0, 0.5, 0.3, -2, -0.3, 0.8, 0,
  0, -8, -4, 0.8, -1.5, 2, 0.5, -1.5, 0.8, 2,
  2.5, -1, -3.5, 0, 2.8, -1, -1, -4.5, -1, 0.5,
  1, 3.5, -0.3, 0.2, 0.2, 11, 0.5, -34, 6, 50,
  10, -30, 12, 20, 0, 15, 0.2, -1.5, -6, 12,
  60, 60, -6, -2.8, -0.3, -4, 20, -24, -4, 4,
  -1, 0.5, 4, -2.4, -0.3, 0, -5, -0.3, -0.8, 0.5,
  1.3, -0.3, 0, -2.4, -0.3, 0.5, -3.5, 0.5, 0, 0,
  0, 0, 0, 0.2, 0, 0, -0.2, 0, 0, 0,
  0, 0, 0, 0, 0, 0, 0, 0, 0, 0,
  0, 0
];
const hdg20211202 = [
  5, 1, -3.5, 4, 10, -0.3, 0, 0, 0, 0,
  0, null, -0.3, -1.1, 0, -350, 2.1, 0.8, 0, 0.3,
  0, 0.8, -1.5, 0, 0.5, 0.3, -2, -0.3, 0.8, 0,
  0, -10, -4.4, 0.8, -1.5, 2, 0.5, -1.5, 0.8, 2,
  2.5, -1, -3.6, 0, 2.9, -1.1, -1.1, -4.7, -1.1, 0.5,
  1, 3.7, -0.3, 0.2, 0.2, 12, 0.5, -40, 6, 45,
  12, -33, 14, 37, 0, 18, 0.2, -1.5, -7, 14,
  75, 80, -6, -2.8, -0.3, -4, 21, -27, -4, 4.1,
  -1.1, 0.5, 4.1, -2.4, -0.3, 0, -5.2, -0.3, -0.8, 0.5,
  1.3, -0.3, 0, -2.4, -0.3, 0.5, -3.6, 0.5, 0, 0,
  0, 0, 0, 0.2, 0, 0, -0.2, 0, 0, 0,
  0, 0, 0, 0, 0, 0, 0, 0, 0, 0,
  0, 0
];
const hdg20220102 = [
  5.4, 1, -3.6, 4, 11, -0.3, 0, 0, 0, 0,
  0, null, -0.3, -1.1, 0, -350, 2.1, 0.8, 0, 0.3,
  0, 0.8, -1.5, 0, 0.5, 0.3, -2, -0.3, 0.8, 0,
  0, -12, -4.4, 0.8, -1.5, 2, 0.5, -1.5, 0.8, 2,
  2.5, -1, -3.6, 0, 2.9, -1.1, -1.1, -4.7, -1.1, 0.5,
  1, 3.7, -0.3, 0.2, 0.2, 13, 0.5, -50, 6, 40,
  15, -33, 16.5, 120, 0, 22, 0.2, -1.5, -8, 16,
  88, 93, -6.5, -2.8, -0.3, -2, 20, -30, -4, 4.1,
  -1.1, 0.5, 4.1, -2.4, -0.3, 0, -5.2, -0.3, -0.8, 0.5,
  1.3, -0.3, 0, -2.4, -0.3, 0.5, -3.6, 0.5, 0, 0,
  0, 0, 0, 0.2, 0, 0, -0.2, 0, 0, 0,
  0, 0, 0, 0, 0, 0, 0, 0, 0, 0,
  0, 0
];
const hdg20220218 = [
  5.4, 1, -3.6, 4, 11.9, -0.3, 0, 0, 0, 0,
  0, null, -0.3, -1.1, 0, -350, 2.1, 0.8, 0, 0.3,
  0, 0.8, -1.5, 0, 0.5, 0.3, -2, -0.3, 0.8, 0,
  0, -17.9, -4.4, 0.8, -1.5, 2, 0.5, -1.5, 0.8, 2,
  2.5, -1, -3.6, 0, 2.9, -1.1, -1.1, -4.7, -1.1, 0.5,
  1, 3.7, -0.3, 0.2, 0.2, 13.2, 0.5, -63.8, 5, 75.6,
  21, -33.4, 16.5, -1, -0.5, 28.8, 0.2, -1.5, -9, 17.6,
  90, 93, -6.5, -2.8, -0.3, 0.8, 18.4, -32.9, -4.4, 4.1,
  -1.1, 0.5, 4.1, -2.4, -0.3, 0, -5.2, -0.3, -0.8, 0.5,
  1.3, -0.3, 0, -2.4, -0.3, 0.5, -3.6, 0.5, 0, 0,
  0, 0, 0, 0.2, 0, 0, -0.2, 0, 0, 0,
  0, 0, 0, 0, 0, 0, 0, 0, 0, 0,
  0, 0
];

const dipSeries = [dip20210206, dip20210302, dip20210506, dip20210602, dip20210702, dip20210820,
  dip20210902, dip20211002, dip20211102, dip20211202, dip20220102, dip20220218];
const headingSeries = [hdg20210206, hdg20210302, hdg20210506, hdg20210602, hdg20210702, hdg20210820,
  hdg20210902, hdg20211002, hdg20211102, hdg20211202, hdg20220102, hdg20220218];

// angular deformation rate (degrees/day)
const rateDates = ['12/4/2020', '1/6/2021', '2/6/2021', '3/2/2021', '5/6/2021', '6/2/2021', '7/2/2021',
  '8/20/2021', '9/2/2021', '10/2/2021', '11/2/2021', '12/2/2021', '1/2/2022', '2/18/2022'];
const rateMarker111 = [0, 0, 0, 0, 0, -0.004, -0.088, -0.053, -0.014, -0.014, -0.008, -0.004, -0.006, -0.004];
const rateMarker95 = [0, 0, 0, 0, 0, -0.003, -0.010, -0.020, -0.004, -0.003, -0.006, -0.006, -0.005, -0.005];
const rateMarker67 = [0, 0, 0, 0, 0, -0.002, -0.013, -0.144, -0.048, -0.047, -0.004, -0.006, -0.015, -0.019];
const rateMarker56 = [-0.001, -0.004, -0.003, -0.015, -0.048, -0.018, -0.099, -0.075, -0.001, -0.004, -0.001, -0.001, -0.003, -0.003];
const rateTickLabels = ['11/4/20', '1/14/21', '3/27/21', '6/6/21', '8/17/21', '10/27/21', '1/7/22', '3/20/22'];

const axisGray = '#595959';
const majorGrid = '#D9D9D9';
const minorGrid = '#EEEEEE';

Chart.defaults.font.family = 'Lato';
Chart.defaults.color = axisGray;

document.addEventListener('DOMContentLoaded', () => {
    renderProfileChart('dipChart', dipSeries, -10, 10, 1, 2, true);
    renderProfileChart('headingChart', headingSeries, -90, 90, 15, 30, false);
    renderRateChart('rate111', rateMarker111, 149, 64);
    renderRateChart('rate95', rateMarker95, 143, 67);
    renderRateChart('rate67', rateMarker67, 139, 73);
    renderRateChart('rate56', rateMarker56, 145, 63);
    renderSeriesLegend();
    renderRateTitles();
});

function toDays(s) {
    const [m, d, y] = s.split('/').map(Number);
    const year = y < 100 ? 2000 + y : y;
    return Date.UTC(year, m - 1, d) / 86400000;
}

function profileDatasets(seriesList, xMin, xMax) {
    const sets = [];
    sets.push({
        data: highlightMarkers.map(m => ({ x: xMax, y: m })),
        yAxisID: 'm', showLine: false, clip: false, order: 0,
        pointRadius: 7.5, pointBackgroundColor: highlightColors,
        pointBorderColor: '#000', pointBorderWidth: 1.5
    });
    boundaryDepths.forEach(d => sets.push({
        data: [{ x: xMin, y: d }, { x: xMax, y: d }],
        yAxisID: 'y', showLine: true, borderColor: '#BFBFBF', borderWidth: 4.5,
        pointRadius: 0, order: 2
    }));
    seriesList.forEach((vals, k) => sets.push({
        label: surveyDates[k],
        data: vals.map((v, i) => (v === null ? { x: null, y: null } : { x: v, y: markerNumbers[i] })),
        yAxisID: 'm', showLine: true, spanGaps: false,
        borderColor: seriesColors[k], borderWidth: k === 11 ? 5 : 4,
        pointRadius: 0, order: k === 11 ? 1 : 3 + (11 - k)
    }));
    return sets;
}

function renderProfileChart(id, seriesList, xMin, xMax, minorStep, majorStep, isDip) {
    const isMajor = v => Math.abs(v % majorStep) < 1e-9;
    new Chart(document.getElementById(id), {
        type: 'scatter',
        data: { datasets: profileDatasets(seriesList, xMin, xMax) },
        options: {
            responsive: false,
            animation: false,
            events: [],
            layout: { padding: isDip ? { top: 33, right: 34, bottom: 40, left: 0 } : { top: 33, right: 14.3, bottom: 40, left: 38.6 } },
            plugins: { legend: { display: false }, tooltip: { enabled: false } },
            scales: {
                x: {
                    type: 'linear', min: xMin, max: xMax,
                    ticks: {
                        stepSize: minorStep, autoSkip: false, maxRotation: 0, padding: 14,
                        font: { size: 20 }, color: axisGray,
                        callback: v => (isMajor(v) ? String(v) : '')
                    },
                    grid: {
                        drawTicks: false,
                        color: c => (c.tick && isMajor(c.tick.value) ? majorGrid : minorGrid),
                        lineWidth: c => (c.tick && isMajor(c.tick.value) ? 1.6 : 1.1)
                    },
                    border: { color: majorGrid, width: 1.6 },
                    afterFit: s => { s.height = 45; }
                },
                y: {
                    type: 'linear', axis: 'y', position: 'left', display: isDip,
                    reverse: true, min: 0, max: 750,
                    ticks: {
                        stepSize: 10, autoSkip: false, padding: 20,
                        font: { size: 19 }, color: axisGray,
                        callback: v => (v % 50 === 0 ? String(v) : '')
                    },
                    grid: {
                        drawTicks: false,
                        color: c => (c.tick && c.tick.value % 50 === 0 ? majorGrid : minorGrid),
                        lineWidth: c => (c.tick && c.tick.value % 50 === 0 ? 1.6 : 1.1)
                    },
                    border: { color: majorGrid, width: 1.6 },
                    afterFit: s => { s.width = isDip ? 133 : 0; }
                },
                m: {
                    type: 'linear', axis: 'y', position: 'right', display: !isDip,
                    min: 2.3, max: 127,
                    afterBuildTicks: s => { s.ticks = markerTickLabels.map(v => ({ value: v })); },
                    ticks: { autoSkip: false, padding: 10, font: { size: 12.5 }, color: axisGray, callback: v => String(v) },
                    grid: { drawOnChartArea: false, drawTicks: true, tickLength: 7, color: '#BFBFBF' },
                    border: { display: false },
                    afterFit: s => { s.width = isDip ? 0 : 40; }
                }
            }
        }
    });
}

const zeroLinePlugin = {
    id: 'zeroLine',
    beforeDatasetsDraw(chart) {
        const { ctx, chartArea: a, scales: { y } } = chart;
        const py = y.getPixelForValue(0);
        ctx.save();
        ctx.strokeStyle = '#000';
        ctx.lineWidth = 2.6;
        ctx.setLineDash([6, 4]);
        ctx.beginPath();
        ctx.moveTo(a.left, py);
        ctx.lineTo(a.right, py);
        ctx.stroke();
        ctx.restore();
    }
};

function renderRateChart(id, values, axisWidth, padRight) {
    const isMajor = v => Math.abs(v * 10 - Math.round(v * 10)) < 1e-6;
    new Chart(document.getElementById(id), {
        type: 'scatter',
        data: {
            datasets: [{
                label: 'Dip Deformation',
                data: values.map((v, i) => ({ x: toDays(rateDates[i]), y: v })),
                showLine: true, borderColor: '#264A7E', borderWidth: 4.5,
                pointRadius: 5.5, pointBackgroundColor: '#264A7E', pointBorderColor: '#264A7E'
            }]
        },
        options: {
            responsive: false,
            animation: false,
            events: [],
            layout: { padding: { top: 40, right: padRight, bottom: 0, left: 0 } },
            plugins: { legend: { display: false }, tooltip: { enabled: false } },
            scales: {
                x: {
                    type: 'linear',
                    min: toDays(rateTickLabels[0]),
                    max: toDays(rateTickLabels[rateTickLabels.length - 1]),
                    afterBuildTicks: s => { s.ticks = rateTickLabels.map(t => ({ value: toDays(t) })); },
                    ticks: { autoSkip: false, maxRotation: 0, padding: 18, font: { size: 21 }, color: axisGray, callback: (v, i) => rateTickLabels[i] },
                    grid: { drawTicks: false, color: majorGrid, lineWidth: 1.5 },
                    border: { color: majorGrid, width: 1.5 },
                    afterFit: s => { s.height = 42; }
                },
                y: {
                    type: 'linear', min: -0.2, max: 0.2,
                    ticks: {
                        stepSize: 0.02, autoSkip: false, padding: 22, font: { size: 22 }, color: axisGray,
                        callback: v => (isMajor(v) ? (Math.abs(v) < 1e-9 ? '0' : v.toFixed(1)) : '')
                    },
                    grid: {
                        drawTicks: false,
                        color: c => (c.tick && isMajor(c.tick.value) ? majorGrid : '#F0F0F0'),
                        lineWidth: c => (c.tick && isMajor(c.tick.value) ? 1.5 : 1.1)
                    },
                    border: { color: majorGrid, width: 1.5 },
                    afterFit: s => { s.width = axisWidth; }
                }
            }
        },
        plugins: [zeroLinePlugin]
    });
}

function renderSeriesLegend() {
    const box = document.getElementById('seriesLegend');
    box.innerHTML = surveyDates.map((d, k) => {
        const x = 46 + (k % 6) * 156.4;
        const y = 1124 + Math.floor(k / 6) * 33;
        return `<div class="lg" style="left:${x}px;top:${y - 2}px;background:${seriesColors[k]}"></div>` +
               `<div class="lgt" style="left:${x + 57}px;top:${y}px">${d}</div>`;
    }).join('');
}

function renderRateTitles() {
    const placements = [
        { x: 1015, cy: 160, box: [1173, 230, 247, 38], dot: [1386, 249] },
        { x: 1016, cy: 412, box: [1173, 485, 247, 37], dot: [1386, 505] },
        { x: 1003, cy: 664, box: [1177, 747, 246, 37], dot: [1386, 768] },
        { x: 1013, cy: 932, box: [1176, 1008, 245, 36], dot: [1380, 1029] }
    ];
    const box = document.getElementById('rateTitles');
    box.innerHTML = placements.map((p, i) => `
        <div class="t rt" style="left:${p.x}px;top:${p.cy}px">Angular Deformation</div>
        <div class="t rt" style="left:${p.x + 26.5}px;top:${p.cy}px">Rate</div>
        <div class="t rt" style="left:${p.x + 53}px;top:${p.cy}px">(degrees/day)</div>
        <div class="mbox" style="left:${p.box[0]}px;top:${p.box[1]}px;width:${p.box[2]}px;height:${p.box[3]}px">
            <span style="left:18px">Marker ${highlightMarkers[i]}</span>
        </div>
        <div class="mdot" style="left:${p.dot[0]}px;top:${p.dot[1]}px;background:${boxColors[i]}"></div>
    `).join('');
}
</script>
</body>
</html>
